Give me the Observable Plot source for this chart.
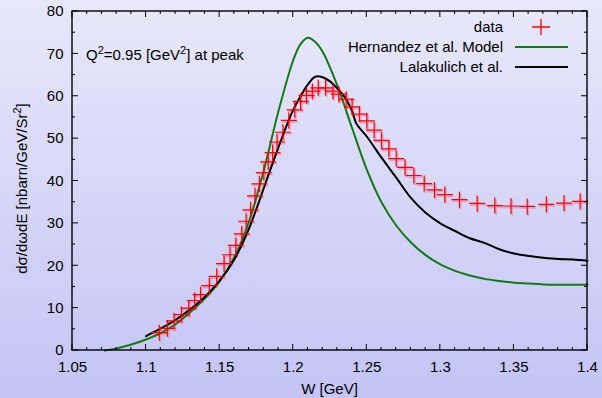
<!DOCTYPE html>
<html><head><meta charset="utf-8">
<script src="https://cdn.jsdelivr.net/npm/d3@7"></script>
<script src="https://cdn.jsdelivr.net/npm/@observablehq/plot@0.6"></script>
<style>
html,body{margin:0;padding:0;}
body{width:602px;height:398px;background:linear-gradient(#e8e8fb,#c4c4f5);overflow:hidden;}
</style></head><body><div id="chart"></div>
<script>
// ---- data ----
const dataW = [1.109,1.1145,1.119,1.124,1.129,1.133,1.137,1.143,1.148,1.153,1.157,1.161,1.165,1.168,1.171,1.174,1.177,1.180,1.183,1.186,1.189,1.193,1.197,1.201,1.205,1.209,1.213,1.217,1.222,1.227,1.231,1.236,1.240,1.245,1.250,1.255,1.260,1.265,1.270,1.276,1.282,1.289,1.296,1.303,1.313,1.325,1.337,1.348,1.359,1.372,1.384,1.395];
const dataV = [4.2,5.2,7.0,8.5,10.0,11.8,13.2,15.3,17.5,20.5,22.6,24.8,27.5,30.5,33.2,36.5,39.3,42.0,44.5,46.7,49.2,51.5,54.3,56.8,58.8,60.2,61.2,62.0,62.0,61.2,60.5,59.3,57.5,55.8,54.2,52.0,49.6,47.6,45.3,43.2,41.3,39.4,37.9,36.8,35.6,34.7,34.2,34.1,34.0,34.5,34.8,35.2];
const hernW = [1.072,1.08,1.09,1.10,1.11,1.12,1.13,1.14,1.15,1.16,1.17,1.18,1.19,1.20,1.205,1.21,1.215,1.22,1.23,1.24,1.25,1.26,1.27,1.28,1.29,1.30,1.31,1.32,1.33,1.34,1.35,1.36,1.37,1.38,1.39,1.40];
const hernV = [0,0.5,1.4,2.6,4.1,6.2,9.0,12.3,16.3,22.0,30.5,42.5,56.5,68.5,72.3,73.8,72.8,70.5,62.5,52.5,42.7,35.0,29.5,25.5,22.5,20.3,18.8,17.7,16.9,16.4,16.0,15.8,15.6,15.5,15.5,15.6];
const lalaW = [1.10,1.11,1.12,1.13,1.14,1.15,1.16,1.165,1.17,1.175,1.18,1.185,1.19,1.195,1.20,1.205,1.21,1.215,1.22,1.225,1.23,1.235,1.24,1.243,1.25,1.26,1.27,1.28,1.29,1.30,1.31,1.32,1.33,1.34,1.35,1.36,1.37,1.38,1.39,1.40];
const lalaV = [3.4,5.2,7.2,9.7,12.7,16.5,21.5,24.9,28.8,33.4,38.3,43.2,48.0,52.6,56.8,60.0,62.8,64.6,64.5,63.5,61.8,59.8,56.5,53.5,50.5,45.5,40.8,36.0,32.5,30.0,28.2,26.5,25.4,23.9,22.9,22.3,21.9,21.6,21.5,21.2];
const xTicks = [1.05,1.1,1.15,1.2,1.25,1.3,1.35,1.4];
const xTickLabels = ["1.05","1.1","1.15","1.2","1.25","1.3","1.35","1.4"];
const yTicks = [0,10,20,30,40,50,60,70,80];
const seriesNames = ["data","Hernandez et al. Model","Lalakulich et al."];
const seriesColors = ["#ff0000","#127a12","#000000"];
const annotationParts = [["Q",0],["2",1],["=0.95 [GeV",0],["2",1],["] at peak",0]];
const yLabelParts = [["dσ/dωdE [nbarn/GeV/Sr",0],["2",1],["]",0]];
const xLabelText = "W [GeV]";

const FONT = "'Liberation Sans', Arial, Helvetica, sans-serif";
const FS = 15;
const data = dataW.map((w,i)=>({W:w, v:dataV[i]}));
const hern = hernW.map((w,i)=>({W:w, v:hernV[i]}));
const lala = lalaW.map((w,i)=>({W:w, v:lalaV[i]}));

const plusSymbol = {draw(ctx, size){ const r = Math.sqrt(size/Math.PI); ctx.moveTo(-r,0); ctx.lineTo(r,0); ctx.moveTo(0,-r); ctx.lineTo(0,r); }};

function richText(g, parts){
  const t = g.append("text");
  let prevSup = 0;
  for (const [s, sup] of parts){
    const sp = t.append("tspan").text(s);
    if (sup && !prevSup) sp.attr("dy", -6).attr("font-size", 11);
    else if (!sup && prevSup) sp.attr("dy", 6);
    prevSup = sup;
  }
  return t;
}

function frameAndTicks(index, scales, values, dims){
  const x = scales.x, y = scales.y;
  const L = dims.marginLeft, R = dims.width - dims.marginRight, T = dims.marginTop, B = dims.height - dims.marginBottom;
  const g = d3.create("svg:g").attr("fill","none").attr("stroke","#000").attr("stroke-width",1);
  const xMinor = d3.range(0, 36).map(i => 1.05 + i*0.01);
  const yMinor = d3.range(0, 17).map(i => i*5);
  let p = "";
  for (const v of xMinor){ const px = x(v); const maj = xTicks.some(t=>Math.abs(t-v)<1e-6); const len = maj?6:3; p += `M${px},${B}v${-len}M${px},${T}v${len}`; }
  for (const v of yMinor){ const py = y(v); const maj = yTicks.includes(v); const len = maj?6:3; p += `M${L},${py}h${len}M${R},${py}h${-len}`; }
  g.append("path").attr("d", p);
  g.append("rect").attr("x",L).attr("y",T).attr("width",R-L).attr("height",B-T).attr("stroke-width",1.4);
  return g.node();
}

function texts(index, scales, values, dims){
  const L = dims.marginLeft, R = dims.width - dims.marginRight, T = dims.marginTop, B = dims.height - dims.marginBottom;
  const g = d3.create("svg:g").attr("font-family", FONT).attr("font-size", FS).attr("fill","#000").attr("text-anchor","start");
  richText(g, annotationParts).attr("text-anchor","start").attr("x", L + 14).attr("y", T + 49);
  richText(g, yLabelParts).attr("text-anchor","middle").attr("transform", `translate(27,${(T+B)/2+8}) rotate(-90)`);
  g.append("text").attr("x",(L+R)/2).attr("y", dims.height - 4).attr("text-anchor","middle").text(xLabelText);
  // legend
  const lx = R - 84;
  seriesNames.forEach((name,i)=>{
    const by = T + 21 + i*20;
    g.append("text").attr("x", lx).attr("y", by).attr("text-anchor","end").text(name);
    if (i === 0){
      const cx = lx + 38, cy = by - 5;
      g.append("path").attr("d",`M${cx-9},${cy}h18M${cx},${cy-8}v16`).attr("stroke",seriesColors[0]).attr("stroke-width",1.3).attr("fill","none");
    } else {
      g.append("line").attr("x1", lx+12).attr("x2", lx+65).attr("y1", by-5).attr("y2", by-5).attr("stroke", seriesColors[i]).attr("stroke-width",2);
    }
  });
  return g.node();
}

const chart = Plot.plot({
  width: 602, height: 398,
  marginLeft: 72, marginRight: 15, marginTop: 11, marginBottom: 48,
  style: {background: "transparent", fontFamily: FONT, fontSize: FS + "px", color: "#000", overflow: "visible"},
  x: {domain: [1.05, 1.4]},
  y: {domain: [0, 80]},
  marks: [
    Plot.axisX(xTicks, {tickSize: 0, tickPadding: 11, tickFormat: d => xTickLabels[xTicks.indexOf(d)], label: null, fontSize: FS}),
    Plot.axisY(yTicks, {tickSize: 0, tickPadding: 9, label: null, fontSize: FS}),
    Plot.dot(data, {x: "W", y: "v", r: 8, symbol: plusSymbol, fill: "none", stroke: "#f06080", strokeOpacity: 0.4, strokeWidth: 2.2, dx: 1, dy: 1.5}),
    Plot.line(hern, {x: "W", y: "v", stroke: seriesColors[1], strokeWidth: 2, curve: "catmull-rom"}),
    Plot.line(lala, {x: "W", y: "v", stroke: seriesColors[2], strokeWidth: 2, curve: "catmull-rom"}),
    Plot.dot(data, {x: "W", y: "v", r: 8, symbol: plusSymbol, fill: "none", stroke: seriesColors[0], strokeWidth: 1.2}),
    frameAndTicks,
    texts
  ]
});
document.getElementById("chart").appendChild(chart);
</script></body></html>
